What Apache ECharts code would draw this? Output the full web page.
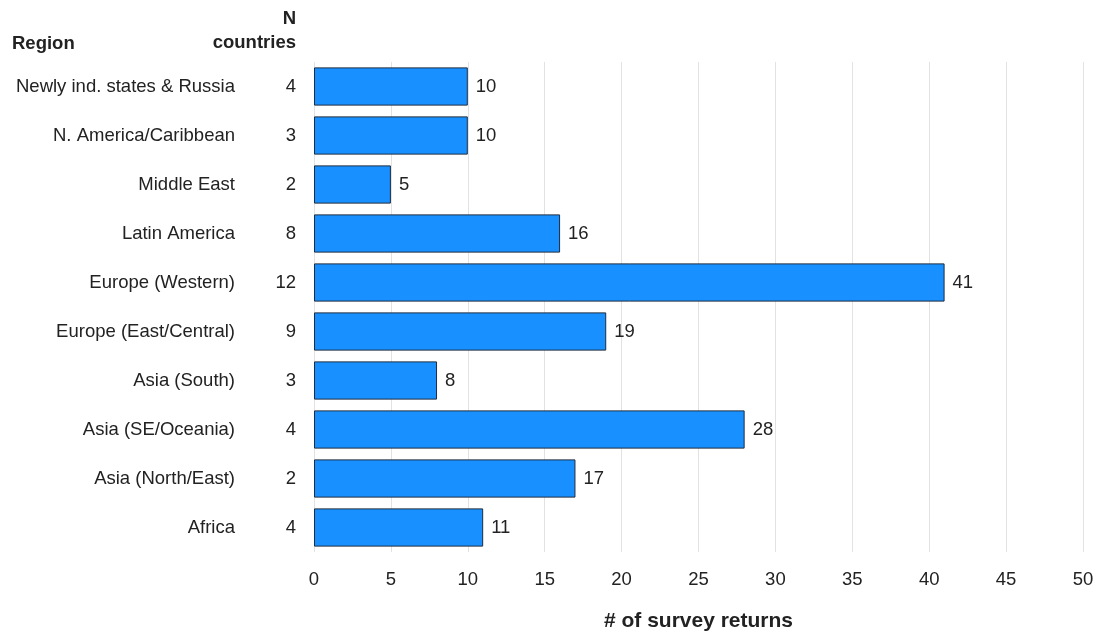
<!DOCTYPE html>
<html><head><meta charset="utf-8">
<script src="https://cdn.jsdelivr.net/npm/echarts@6/dist/echarts.min.js"></script>
<style>html,body{margin:0;padding:0;background:#fff}#c{width:1097px;height:633px}</style>
</head><body><div id="c"></div>
<script>
const regions = ["Newly ind. states & Russia","N. America/Caribbean","Middle East","Latin America","Europe (Western)","Europe (East/Central)","Asia (South)","Asia (SE/Oceania)","Asia (North/East)","Africa"];
const nCountries = [4,3,2,8,12,9,3,4,2,4];
const surveyReturns = [10,10,5,16,41,19,8,28,17,11];
const xTicks = {min:0,max:50,interval:5};

const FONT = '"Liberation Sans", Arial, sans-serif';
const FS = 18.5;
const chart = echarts.init(document.getElementById('c'));
chart.setOption({
  animation:false,
  textStyle:{fontFamily:FONT},
  grid:{left:314,right:14,top:62,bottom:81,outerBoundsMode:'none',containLabel:false},
  xAxis:{type:'value',min:xTicks.min,max:xTicks.max,interval:xTicks.interval,
    axisLine:{show:false},axisTick:{show:false},
    splitLine:{show:true,lineStyle:{color:'#e2e2e2',width:1}},
    axisLabel:{fontSize:FS,color:'#222',margin:18,fontFamily:FONT},
    name:'# of survey returns',nameLocation:'middle',nameGap:59,
    nameTextStyle:{fontSize:21,fontWeight:'bold',color:'#222',fontFamily:FONT}},
  yAxis:[
    {type:'category',data:nCountries.map(String),inverse:true,
     axisLine:{show:false},axisTick:{show:false},
     axisLabel:{fontSize:FS,color:'#222',margin:18,fontFamily:FONT,padding:[4,0,0,0]}},
    {type:'category',data:regions,inverse:true,position:'left',
     axisLine:{show:false},axisTick:{show:false},
     axisLabel:{fontSize:FS,color:'#222',margin:79,fontFamily:FONT,padding:[4,0,0,0]}}
  ],
  series:[{type:'bar',data:surveyReturns,yAxisIndex:0,barCategoryGap:'22%',
    itemStyle:{color:'#1890ff',borderColor:'#1d2c40',borderWidth:1},
    label:{show:true,position:'right',distance:8,fontSize:FS,color:'#222',fontFamily:FONT,padding:[4,0,0,0]}}],
  graphic:[
    {type:'text',left:12,top:34,style:{text:'Region',fontSize:FS,fontWeight:'bold',fill:'#222',fontFamily:FONT}},
    {type:'text',right:1097-296,top:9,style:{text:'N',fontSize:FS,fontWeight:'bold',fill:'#222',fontFamily:FONT,align:'right'}},
    {type:'text',right:1097-296,top:33,style:{text:'countries',fontSize:FS,fontWeight:'bold',fill:'#222',fontFamily:FONT,align:'right'}}
  ]
});
</script></body></html>
